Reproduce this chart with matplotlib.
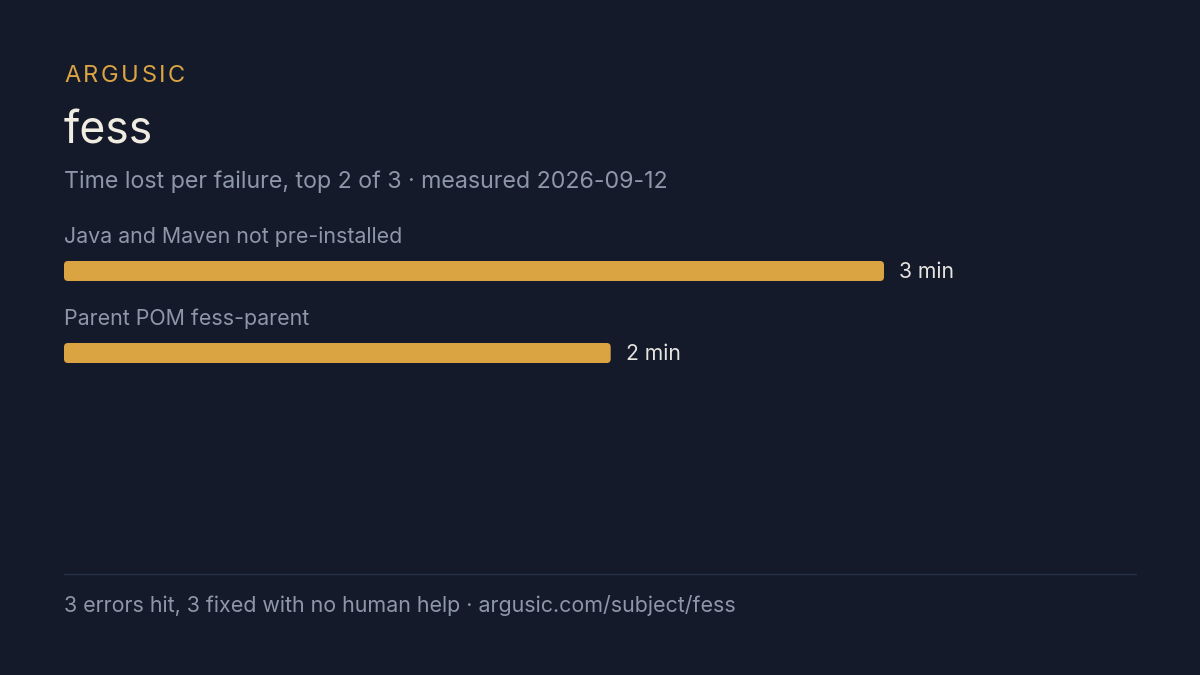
import matplotlib
matplotlib.use("Agg")
import matplotlib.pyplot as plt
from matplotlib.patches import FancyBboxPatch

plt.rcParams['font.family'] = ['Inter', 'DejaVu Sans']

brand = "ARGUSIC"
title = "fess"
subtitle = "Time lost per failure, top 2 of 3 · measured 2026-09-12"
categories = ["Java and Maven not pre-installed", "Parent POM fess-parent"]
values = [3, 2]
value_labels = ["3 min", "2 min"]
footer = "3 errors hit, 3 fixed with no human help · argusic.com/subject/fess"

BG = "#141a2a"
AMBER = "#dba443"
CREAM = "#f0ece2"
GRAY = "#8e97a8"
VALC = "#e6e4de"

W, H = 1200, 675
fig = plt.figure(figsize=(12, 6.75), dpi=100, facecolor=BG)
renderer = fig.canvas.get_renderer()

# text in pixel coordinates (top-left origin)
def ftext(x, y, s, **kw):
    return fig.text(x / W, 1 - y / H, s, **kw)

# letter-spaced brand
x = 64
spacing = 2.6
for ch in brand:
    t = ftext(x, 82, ch, color=AMBER, fontsize=17, va='baseline', ha='left')
    w = t.get_window_extent(renderer).width
    x += w + spacing

ftext(64, 143, title, color=CREAM, fontsize=32, va='baseline', ha='left')
ftext(64, 188, subtitle, color=GRAY, fontsize=16.7, va='baseline', ha='left')

# bars axes: x from 64px to 884px maps 0..3 min
left_px, right_px = 64, 884
top_px, bot_px = 220, 380
ax = fig.add_axes([left_px / W, 1 - bot_px / H, (right_px - left_px) / W, (bot_px - top_px) / H])
ax.set_facecolor(BG)
ax.patch.set_alpha(0)
xmax = max(values)
ax.set_xlim(0, xmax)
ax.set_ylim(bot_px, top_px)  # y in pixels, inverted
ax.axis('off')

px_per_x = (right_px - left_px) / xmax
bar_h = 20
bar_tops = [261, 343]
label_base = [243, 325]
for i, (cat, v, vl) in enumerate(zip(categories, values, value_labels)):
    y0 = bar_tops[i]
    p = FancyBboxPatch((0, y0), v, bar_h,
                       boxstyle=f"round,pad=0,rounding_size={4 / px_per_x}",
                       mutation_aspect=px_per_x,
                       facecolor=AMBER, edgecolor='none')
    ax.add_patch(p)
    ax.text(0, label_base[i], cat, color=GRAY, fontsize=15.4, va='baseline', ha='left')
    ax.text(v + 15 / px_per_x, y0 + bar_h / 2 + 1, vl, color=VALC, fontsize=15.2,
            va='center', ha='left')

# separator
fig.add_artist(plt.Line2D([64 / W, 1136 / W], [1 - 573.5 / H, 1 - 573.5 / H],
                          color="#283045", linewidth=1))
ftext(64, 612, footer, color=GRAY, fontsize=15.45, va='baseline', ha='left')

fig.savefig("out.png", dpi=100, facecolor=BG)
